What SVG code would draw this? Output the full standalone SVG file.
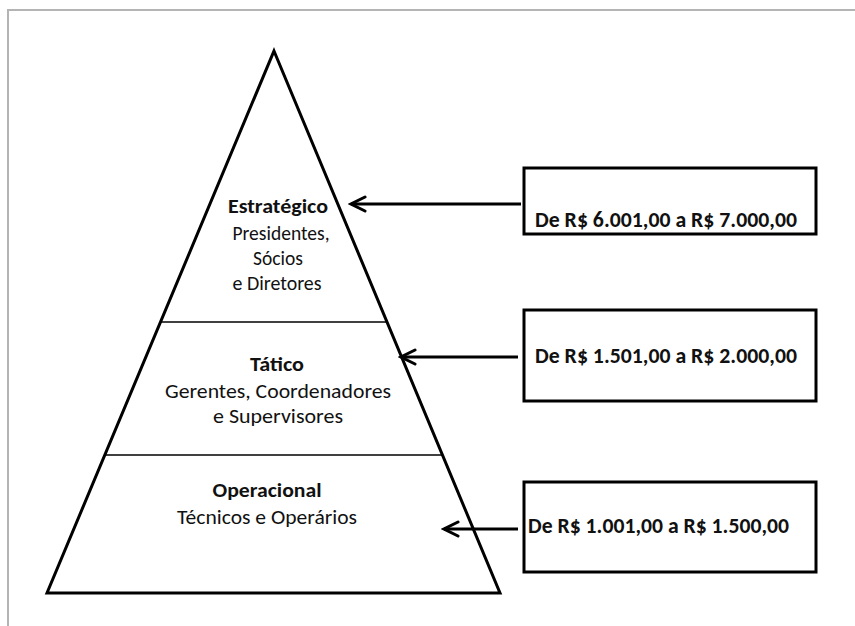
<svg xmlns="http://www.w3.org/2000/svg" width="855" height="626" viewBox="0 0 855 626">
<style>
.frame{fill:none;stroke:#b4b4b4;stroke-width:2}
.shape{fill:#fff;stroke:#000;stroke-width:3;stroke-linejoin:miter}
.div{stroke:#000;stroke-width:1.3}
.box{fill:#fff;stroke:#000;stroke-width:3}
.t{font-family:Carlito,"Liberation Sans",Arial,sans-serif;fill:#111;text-anchor:middle}
.b{font-weight:bold;font-size:20.5px}
.r{font-size:20.5px}
.bt{font-family:Carlito,"Liberation Sans",Arial,sans-serif;fill:#111;font-weight:bold;font-size:21.5px}
.conn{stroke:#000;stroke-width:3;fill:none}
</style>
<defs>
<marker id="chev" markerWidth="20" markerHeight="20" refX="17" refY="10" orient="auto" markerUnits="userSpaceOnUse" viewBox="0 0 20 20">
<path d="M3,3 L17,10 L3,17" fill="none" stroke="#000" stroke-width="3" stroke-linecap="round" stroke-linejoin="miter"/>
</marker>
</defs>
<rect width="855" height="626" fill="#fff"/>
<path class="frame" d="M8,626 V10 H855"/>
<g id="pyramid">
<polygon class="shape" points="274,51 500,593 47,593"/>
<line class="div" x1="161" y1="322" x2="387" y2="322"/>
<line class="div" x1="105" y1="455" x2="443" y2="455"/>
</g>
<g id="estrategico">
<text class="t b" x="278" y="213" textLength="100" lengthAdjust="spacingAndGlyphs">Estratégico</text>
<text class="t r" x="281" y="240" textLength="97" lengthAdjust="spacingAndGlyphs">Presidentes,</text>
<text class="t r" x="278" y="265" textLength="50" lengthAdjust="spacingAndGlyphs">Sócios</text>
<text class="t r" x="277" y="290" textLength="89" lengthAdjust="spacingAndGlyphs">e Diretores</text>
</g>
<g id="tatico">
<text class="t b" x="277" y="371" textLength="54" lengthAdjust="spacingAndGlyphs">Tático</text>
<text class="t r" x="278" y="398" textLength="226" lengthAdjust="spacingAndGlyphs">Gerentes, Coordenadores</text>
<text class="t r" x="278" y="423" textLength="130" lengthAdjust="spacingAndGlyphs">e Supervisores</text>
</g>
<g id="operacional">
<text class="t b" x="267" y="497" textLength="109" lengthAdjust="spacingAndGlyphs">Operacional</text>
<text class="t r" x="267" y="524" textLength="180" lengthAdjust="spacingAndGlyphs">Técnicos e Operários</text>
</g>
<g id="box1">
<rect class="box" x="524" y="168" width="292" height="66"/>
<text class="bt" x="535" y="227" textLength="262" lengthAdjust="spacingAndGlyphs">De R$ 6.001,00 a R$ 7.000,00</text>
</g>
<g id="box2">
<rect class="box" x="524" y="310" width="292" height="91"/>
<text class="bt" x="535" y="363" textLength="262" lengthAdjust="spacingAndGlyphs">De R$ 1.501,00 a R$ 2.000,00</text>
</g>
<g id="box3">
<rect class="box" x="524" y="482" width="292" height="90"/>
<text class="bt" x="528" y="533" textLength="261" lengthAdjust="spacingAndGlyphs">De R$ 1.001,00 a R$ 1.500,00</text>
</g>
<g id="connectors">
<line class="conn" x1="521" y1="204" x2="351" y2="204" marker-end="url(#chev)"/>
<line class="conn" x1="518" y1="357" x2="401" y2="357" marker-end="url(#chev)"/>
<line class="conn" x1="518" y1="529" x2="444" y2="529" marker-end="url(#chev)"/>
</g>
</svg>
